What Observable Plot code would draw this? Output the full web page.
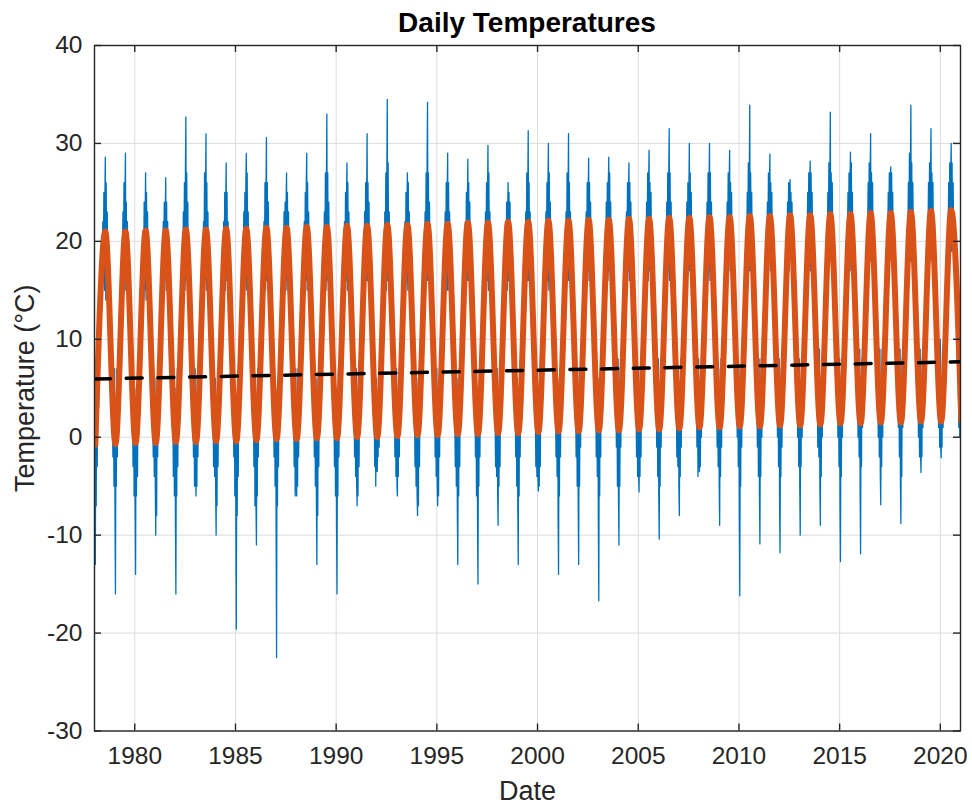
<!DOCTYPE html>
<html>
<head>
<meta charset="utf-8">
<script src="https://cdn.jsdelivr.net/npm/d3@7"></script>
<script src="https://cdn.jsdelivr.net/npm/@observablehq/plot@0.6"></script>
<style>
  body { margin: 0; background: #fff; font-family: "Liberation Sans", Arial, sans-serif; }
  #wrap { position: relative; width: 972px; height: 805px; background: #fff; }
  #chart { position: absolute; left: 0; top: 0; }
  #title { position: absolute; left: 94px; top: 9px; width: 866px; text-align: center; z-index: 2;
           font-size: 28px; line-height: 28px; font-weight: bold; color: #000; }
</style>
</head>
<body>
<div id="wrap">
  <div id="chart"></div>
  <div id="title">Daily Temperatures</div>
</div>
<script>
// ---- Data ----
const firstYear = 1978;
const lastYear = 2020;
// Sample dates within each year: [month (0-based), day]
const sampleDays = [
  [0, 1], [0, 8], [0, 16], [0, 24], [1, 1], [1, 10], [1, 20], [2, 1], [2, 16], [3, 1], [3, 16],
  [4, 1], [4, 16], [5, 1], [5, 10], [5, 20], [6, 1], [6, 8], [6, 16], [6, 24], [7, 1], [7, 10],
  [7, 20], [8, 1], [8, 16], [9, 1], [9, 16], [10, 1], [10, 16], [11, 1], [11, 10], [11, 20]
];
// Daily temperature series (°C), one row of 32 samples per year
const dailyTemp = [
/*1978*/ 6, -6, -13, 2, -7, 6, -3, 6, 3, 11, 9, 17, 14, 22, 17, 25, 15, 24, 28.6, 14, 26, 17, 23, 15, 19, 10, 13, 5, 7, -2, 7, -5,
/*1979*/ 7, -8, -16, 1, -5, 7, -2, 5, 4, 12, 8, 16, 15, 23, 18, 26, 16, 25, 29, 15, 24, 16, 22, 16, 18, 11, 12, 4, 8, -3, 6, -6,
/*1980*/ 5, -7, -14, 3, -6, 5, -4, 6, 3, 11, 9, 17, 13, 21, 17, 24, 15, 23, 27, 14, 25, 17, 23, 14, 19, 10, 13, 5, 6, -2, 7, -4,
/*1981*/ 6, -5, -10, 2, -8, 6, -2, 5, 4, 12, 9, 16, 14, 22, 18, 24, 16, 23, 26.5, 15, 24, 16, 22, 15, 18, 11, 12, 4, 7, -4, 6, -6,
/*1982*/ 5, -9, -16, 1, -6, 7, -3, 6, 3, 11, 10, 17, 15, 23, 17, 26, 15, 27, 32.7, 16, 27, 18, 24, 16, 19, 10, 13, 5, 8, -2, 7, -5,
/*1983*/ 7, -4, -6, 3, -5, 6, -2, 5, 4, 12, 9, 16, 14, 22, 18, 27, 16, 25, 31, 15, 26, 17, 23, 15, 18, 11, 12, 4, 7, -3, 6, -4,
/*1984*/ 6, -6, -10, 2, -7, 7, -3, 6, 3, 11, 10, 17, 14, 22, 17, 25, 15, 24, 28, 16, 25, 17, 22, 16, 19, 10, 13, 5, 8, -2, 7, -6,
/*1985*/ 5, -9, -19.6, 1, -8, 6, -4, 5, 4, 12, 9, 16, 15, 23, 18, 25, 16, 26, 29, 15, 27, 18, 23, 15, 18, 11, 13, 4, 7, -3, 6, -7,
/*1986*/ 6, -7, -11, 2, -6, 7, -2, 6, 3, 12, 10, 17, 14, 22, 17, 26, 15, 25, 30.6, 16, 26, 17, 24, 16, 19, 10, 13, 5, 8, -2, 7, -5,
/*1987*/ 5, -10, -22.5, 1, -7, 6, -3, 6, 4, 11, 9, 17, 15, 23, 18, 24, 16, 24, 27, 15, 25, 18, 23, 15, 18, 11, 12, 4, 7, -3, 6, -6,
/*1988*/ 7, -4, -6, 3, -5, 7, -2, 5, 4, 12, 10, 16, 14, 22, 17, 25, 16, 26, 29, 15, 26, 17, 23, 16, 19, 10, 13, 5, 8, -2, 7, -5,
/*1989*/ 6, -7, -13, 2, -8, 6, -3, 6, 3, 11, 9, 17, 15, 23, 18, 27, 15, 26, 33, 16, 27, 18, 24, 15, 18, 11, 13, 5, 7, -3, 6, -6,
/*1990*/ 5, -9, -16, 1, -6, 7, -2, 6, 4, 12, 10, 17, 14, 22, 18, 25, 16, 25, 28, 15, 26, 17, 23, 16, 19, 10, 13, 4, 8, -2, 7, -4,
/*1991*/ 7, -5, -7, 3, -6, 6, -3, 5, 4, 12, 9, 16, 15, 23, 17, 26, 16, 25, 31, 16, 26, 18, 24, 15, 18, 11, 12, 5, 7, -3, 6, -5,
/*1992*/ 6, -3, -3.5, 2, -2, 7, -1, 6, 3, 11, 10, 17, 14, 23, 18, 27, 15, 27, 34.5, 16, 28, 17, 23, 16, 19, 10, 13, 5, 8, -2, 7, -4,
/*1993*/ 7, -5, -6, 3, -4, 6, -2, 6, 4, 12, 9, 17, 15, 22, 17, 25, 16, 24, 27, 15, 26, 18, 23, 15, 18, 11, 13, 4, 7, -3, 6, -5,
/*1994*/ 6, -6, -8, 2, -7, 7, -3, 5, 3, 11, 10, 16, 14, 23, 18, 27, 16, 28, 34.2, 16, 27, 17, 24, 16, 19, 10, 12, 5, 8, -2, 7, -4,
/*1995*/ 7, -5, -7, 3, -6, 6, -2, 6, 4, 12, 9, 17, 15, 23, 17, 26, 15, 25, 29, 15, 26, 18, 23, 15, 18, 11, 13, 5, 7, -3, 6, -5,
/*1996*/ 6, -8, -13, 2, -6, 7, -3, 6, 4, 12, 10, 17, 14, 22, 18, 25, 16, 24, 28.4, 16, 26, 17, 24, 16, 19, 10, 13, 4, 8, -2, 7, -6,
/*1997*/ 5, -9, -15, 1, -5, 7, -2, 5, 3, 11, 9, 16, 15, 23, 17, 26, 16, 25, 29.8, 15, 27, 18, 23, 15, 18, 11, 12, 5, 7, -3, 6, -4,
/*1998*/ 7, -6, -9, 3, -5, 6, -3, 6, 4, 12, 10, 17, 14, 22, 18, 24, 15, 23, 26, 16, 25, 17, 24, 16, 19, 10, 13, 5, 8, -2, 7, -5,
/*1999*/ 6, -7, -13, 2, -6, 7, -2, 6, 4, 12, 9, 17, 15, 23, 17, 27, 16, 25, 31.3, 16, 26, 18, 23, 15, 18, 11, 13, 4, 8, -3, 6, -4,
/*2000*/ 7, -4, -5.5, 3, -5, 6, -3, 6, 4, 12, 10, 17, 14, 23, 18, 26, 16, 26, 30, 15, 27, 17, 24, 16, 19, 10, 13, 5, 8, -2, 7, -4,
/*2001*/ 6, -8, -14, 2, -6, 7, -2, 6, 4, 12, 10, 17, 15, 23, 17, 27, 16, 25, 31, 16, 26, 18, 23, 15, 18, 11, 13, 5, 8, -2, 7, -5,
/*2002*/ 7, -7, -13, 3, -5, 7, -1, 6, 5, 13, 10, 18, 15, 23, 18, 26, 17, 25, 28.5, 16, 26, 18, 24, 16, 19, 11, 13, 5, 8, -2, 7, -4,
/*2003*/ 6, -9, -16.7, 2, -6, 7, -2, 7, 4, 12, 11, 17, 16, 24, 18, 26, 16, 26, 28.6, 17, 27, 18, 24, 16, 20, 11, 14, 5, 9, -1, 7, -5,
/*2004*/ 8, -6, -11, 3, -5, 7, -1, 6, 5, 13, 10, 18, 15, 23, 19, 26, 17, 25, 28, 16, 26, 18, 24, 17, 19, 11, 13, 6, 8, -2, 8, -4,
/*2005*/ 7, -4, -5.6, 3, -4, 7, -2, 7, 4, 12, 11, 17, 16, 24, 18, 27, 16, 26, 29.3, 17, 26, 19, 25, 16, 20, 12, 14, 5, 9, -1, 7, -4,
/*2006*/ 8, -6, -10.4, 2, -5, 7, -1, 6, 5, 13, 10, 18, 15, 24, 19, 27, 17, 27, 31.5, 16, 27, 18, 24, 17, 19, 11, 14, 6, 8, -2, 8, -3,
/*2007*/ 7, -5, -8, 3, -4, 8, -1, 7, 5, 12, 11, 17, 16, 24, 18, 26, 17, 25, 30, 17, 27, 19, 25, 16, 20, 12, 13, 5, 9, -1, 7, -4,
/*2008*/ 8, -2, -3.5, 3, -3, 7, 0, 7, 5, 13, 10, 18, 15, 24, 19, 27, 17, 26, 30, 16, 27, 18, 24, 17, 20, 11, 14, 6, 9, -1, 8, -3,
/*2009*/ 7, -5, -9, 3, -4, 8, -1, 7, 5, 13, 11, 18, 16, 24, 19, 27, 18, 26, 29.3, 17, 26, 19, 25, 17, 20, 12, 14, 6, 9, 0, 8, -3,
/*2010*/ 7, -8, -16.2, 2, -5, 7, -1, 7, 5, 13, 11, 18, 16, 25, 19, 28, 17, 27, 33.9, 17, 27, 19, 25, 17, 20, 12, 14, 6, 9, -1, 8, -4,
/*2011*/ 8, -6, -10.9, 3, -4, 8, 0, 7, 6, 13, 11, 18, 16, 24, 19, 27, 18, 26, 28.9, 17, 26, 19, 25, 17, 21, 12, 14, 6, 9, 0, 8, -3,
/*2012*/ 8, -7, -11.8, 3, -4, 7, -1, 8, 5, 14, 11, 19, 16, 24, 20, 26, 17, 25, 26.3, 18, 25, 19, 24, 18, 20, 12, 15, 7, 9, 0, 8, -3,
/*2013*/ 8, -5, -10, 3, -3, 8, 0, 7, 6, 13, 12, 18, 17, 25, 19, 27, 18, 26, 28.2, 17, 27, 19, 25, 17, 21, 13, 14, 6, 10, -1, 8, -2,
/*2014*/ 9, -5, -9, 4, -4, 8, 0, 8, 5, 14, 11, 19, 16, 25, 20, 28, 18, 27, 33.2, 18, 27, 20, 26, 18, 20, 12, 15, 7, 9, 0, 9, -3,
/*2015*/ 8, -7, -12.7, 3, -4, 8, 0, 7, 6, 13, 12, 18, 17, 25, 19, 27, 18, 26, 29.1, 17, 28, 19, 25, 18, 21, 13, 14, 7, 10, 0, 8, -2,
/*2016*/ 9, -6, -11.9, 4, -3, 8, 1, 8, 6, 14, 12, 19, 17, 26, 20, 28, 18, 27, 31, 18, 27, 20, 26, 18, 21, 13, 15, 7, 10, 0, 9, -2,
/*2017*/ 9, -4, -6.9, 4, -3, 9, 0, 8, 6, 14, 12, 19, 17, 25, 20, 27, 19, 26, 27.6, 18, 27, 20, 25, 18, 21, 13, 15, 7, 10, 1, 9, -2,
/*2018*/ 9, -5, -8.8, 4, -4, 8, 1, 8, 6, 14, 12, 19, 17, 26, 20, 29, 18, 28, 33.9, 18, 28, 20, 26, 19, 21, 13, 15, 8, 10, 0, 9, -2,
/*2019*/ 9, -2, -3.6, 4, -2, 8, 1, 8, 7, 14, 12, 20, 17, 26, 20, 28, 19, 27, 31.5, 18, 27, 20, 26, 18, 22, 13, 15, 7, 11, 1, 9, -1,
/*2020*/ 10, -1, -2.1, 4, -1, 9, 1, 9, 6, 15, 12, 19, 18, 26, 21, 28, 19, 27, 30, 19, 28, 21, 26, 19, 21, 14, 15, 8, 10, 1, 9, 0
];
const finalTemp = 1; // 1 Jan 2021

// Seasonal fit (orange): mid-January troughs 1978..2021 and mid-July peaks 1978..2020
const fitTroughs = [-0.75, -0.7, -0.6, -0.6, -0.5, -0.5, -0.4, -0.4, -0.3, -0.2, -0.2,
  -0.1, -0.1, 0.0, 0.0, 0.1, 0.2, 0.2, 0.3, 0.3, 0.4, 0.4, 0.5, 0.6, 0.6, 0.7, 0.7,
  0.8, 0.8, 0.9, 1.0, 1.0, 1.1, 1.1, 1.2, 1.2, 1.3, 1.4, 1.4, 1.5, 1.5, 1.6, 1.6, 1.7];
const fitPeaks = [21.0, 21.0, 21.1, 21.1, 21.2, 21.2, 21.3, 21.3, 21.4, 21.4, 21.5,
  21.5, 21.6, 21.6, 21.7, 21.7, 21.8, 21.8, 21.9, 21.9, 22.0, 22.0, 22.1, 22.1, 22.2,
  22.2, 22.3, 22.3, 22.4, 22.4, 22.5, 22.5, 22.6, 22.6, 22.7, 22.7, 22.8, 22.8, 22.9,
  22.9, 23.0, 23.1, 23.2];

// Long-term trend (black dashed): start and end values
const trendValues = [5.95, 7.7];

const xTickYears = [1980, 1985, 1990, 1995, 2000, 2005, 2010, 2015, 2020];
const yTicks = [-30, -20, -10, 0, 10, 20, 30, 40];
const yDomain = [-30, 40];

// ---- Build tables ----
const utc = (y, m, d) => new Date(Date.UTC(y, m, d));
const xStart = utc(firstYear, 0, 1), xEnd = utc(lastYear + 1, 0, 1);
const perYear = sampleDays.length;
if (dailyTemp.length !== (lastYear - firstYear + 1) * perYear) console.error("dailyTemp length", dailyTemp.length);

const daily = [];
for (let y = firstYear; y <= lastYear; y++) {
  sampleDays.forEach(([m, d], i) => {
    const v = dailyTemp[(y - firstYear) * perYear + i];
    if (v !== undefined) daily.push({date: utc(y, m, d), temp: v});
  });
}
daily.push({date: xEnd, temp: finalTemp});

const fit = [];
fitTroughs.forEach((v, k) => {
  fit.push({date: utc(firstYear + k, 0, 16), temp: v});
  if (k < fitPeaks.length) fit.push({date: utc(firstYear + k, 6, 16), temp: fitPeaks[k]});
});

const trend = [{date: xStart, temp: trendValues[0]}, {date: xEnd, temp: trendValues[1]}];
const xTicks = xTickYears.map(y => utc(y, 0, 1));

// ---- Plot ----
const W = 972, H = 805;
const mt = 45, mb = 74.5, ml = 94, mr = 12;
const innerH = H - mt - mb, innerW = W - ml - mr;
const axisColor = "#262626";
const gridColor = "#dcdcdc";
const tickLen = 7;

const chart = Plot.plot({
  width: W, height: H,
  marginTop: mt, marginBottom: mb, marginLeft: ml, marginRight: mr,
  style: {color: axisColor, background: "#fff", fontFamily: "'Liberation Sans', Arial, sans-serif"},
  x: {type: "utc", domain: [xStart, xEnd]},
  y: {domain: yDomain},
  marks: [
    Plot.gridX(xTicks, {stroke: gridColor, strokeOpacity: 1}),
    Plot.gridY(yTicks, {stroke: gridColor, strokeOpacity: 1}),
    Plot.line(daily, {x: "date", y: "temp", stroke: "#0072BD", strokeWidth: 1.3, clip: true}),
    Plot.line(fit, {x: "date", y: "temp", stroke: "#D95319", strokeWidth: 6, curve: "monotone-x", clip: true}),
    Plot.line(trend, {x: "date", y: "temp", stroke: "#000", strokeWidth: 3.5, strokeDasharray: "16,15.7", clip: true}),
    Plot.frame({stroke: axisColor, strokeWidth: 1.4}),
    // inward ticks on all four sides
    Plot.ruleX(xTicks, {stroke: axisColor, strokeWidth: 1.4, insetTop: innerH - tickLen}),
    Plot.ruleX(xTicks, {stroke: axisColor, strokeWidth: 1.4, insetBottom: innerH - tickLen}),
    Plot.ruleY(yTicks, {stroke: axisColor, strokeWidth: 1.4, insetRight: innerW - tickLen}),
    Plot.ruleY(yTicks, {stroke: axisColor, strokeWidth: 1.4, insetLeft: innerW - tickLen}),
    Plot.axisX(xTicks, {tickSize: 0, tickPadding: 16, tickFormat: d3.utcFormat("%Y"), fontSize: 24.5, label: null}),
    Plot.axisY(yTicks, {tickSize: 0, tickPadding: 12, tickFormat: d => String(d), fontSize: 24.5, label: null}),
    Plot.text(["Temperature (°C)"], {frameAnchor: "left", dx: -69, rotate: -90, textAnchor: "middle", lineAnchor: "middle", fontSize: 27, fill: axisColor}),
    Plot.text(["Date"], {frameAnchor: "bottom", dy: 60, textAnchor: "middle", lineAnchor: "middle", fontSize: 27, fill: axisColor})
  ]
});
document.getElementById("chart").appendChild(chart);
</script>
</body>
</html>
